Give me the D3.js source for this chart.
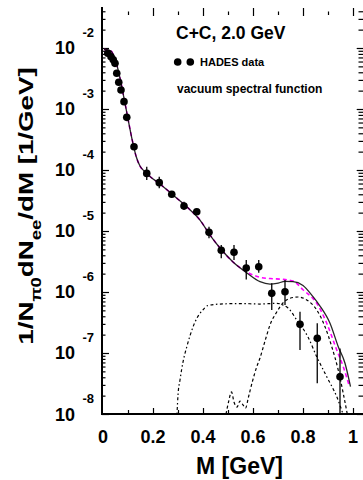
<!DOCTYPE html>
<html><head><meta charset="utf-8">
<script src="https://cdn.jsdelivr.net/npm/d3@7"></script>
<style>html,body{margin:0;padding:0;background:#fff;} svg{display:block;}</style>
</head><body><svg id="c" width="363" height="480"></svg>
<script>
// HADES data points
const dataMass  = [0.019,0.032,0.041,0.048,0.055,0.063,0.072,0.084,0.095,0.124,0.175,0.225,0.275,0.324,0.375,0.424,0.473,0.524,0.573,0.623,0.675,0.728,0.788,0.857,0.948];
const dataYield = [8.2e-3,7.2e-3,6.4e-3,5.6e-3,3.85e-3,2.74e-3,2.05e-3,1.32e-3,7.3e-4,2.41e-4,8.8e-5,6.2e-5,4.0e-5,2.57e-5,2.07e-5,9.5e-6,4.83e-6,4.48e-6,2.47e-6,2.60e-6,9.5e-7,1.01e-6,2.95e-7,1.74e-7,4.08e-8];
const dataErrHi = [8.2e-3,7.2e-3,6.4e-3,5.6e-3,3.85e-3,2.74e-3,2.05e-3,1.32e-3,7.3e-4,2.41e-4,1.13e-4,7.76e-5,4.48e-5,3.02e-5,2.32e-5,1.17e-5,5.89e-6,5.89e-6,3.35e-6,3.35e-6,1.39e-6,1.57e-6,4.75e-7,3.07e-7,1.19e-7];
const dataErrLo = [8.2e-3,7.2e-3,6.4e-3,5.6e-3,3.85e-3,2.74e-3,2.05e-3,1.32e-3,7.3e-4,2.41e-4,6.86e-5,5.01e-5,3.56e-5,2.21e-5,1.85e-5,7.59e-6,3.56e-6,3.35e-6,1.61e-6,2.07e-6,5.07e-7,6.12e-7,1.12e-7,3.18e-8,1.0e-8];

// total (solid black)
const totalMass  = [0.004,0.02,0.032,0.04,0.052,0.068,0.084,0.100,0.116,0.132,0.148,0.164,0.188,0.228,0.280,0.336,0.388,0.428,0.468,0.520,0.576,0.628,0.668,0.695,0.728,0.760,0.800,0.840,0.868,0.908,0.941,0.968,0.990];
const totalYield = [9.45e-3,9.27e-3,8.93e-3,7.98e-3,5.89e-3,3.22e-3,1.51e-3,6.86e-4,3.22e-4,1.70e-4,1.16e-4,9.64e-5,7.82e-5,5.89e-5,3.89e-5,2.47e-5,1.51e-5,8.59e-6,5.26e-6,3.10e-6,2.05e-6,1.48e-6,1.35e-6,1.38e-6,1.49e-6,1.48e-6,1.28e-6,8.38e-7,5.89e-7,3.07e-7,1.27e-7,6.78e-8,2.81e-8];

// vacuum spectral function (magenta dashed)
const vacMass  = [0.004,0.02,0.032,0.04,0.052,0.068,0.084,0.100,0.116,0.132,0.148,0.164,0.188,0.228,0.280,0.336,0.388,0.428,0.468,0.520,0.576,0.628,0.668,0.721,0.761,0.801,0.855,0.895,0.935,0.961,0.986];
const vacYield = [9.45e-3,9.27e-3,8.93e-3,7.98e-3,5.89e-3,3.22e-3,1.51e-3,6.86e-4,3.22e-4,1.70e-4,1.16e-4,9.64e-5,7.82e-5,5.89e-5,3.89e-5,2.47e-5,1.51e-5,8.59e-6,5.26e-6,3.10e-6,2.13e-6,1.74e-6,1.66e-6,1.61e-6,1.51e-6,1.08e-6,6.53e-7,3.07e-7,1.12e-7,5.96e-8,2.81e-8];

// dashed component
const dashMass  = [0.492,0.502,0.514,0.524,0.536,0.548,0.560,0.570,0.582,0.596,0.615,0.628,0.648,0.668,0.695,0.720,0.748,0.780,0.815,0.855,0.888,0.915,0.941,0.961,0.977];
const dashYield = [1.0e-8,1.57e-8,2.30e-8,1.57e-8,1.30e-8,1.63e-8,1.41e-8,1.25e-8,1.90e-8,3.22e-8,5.96e-8,8.28e-8,1.57e-7,2.88e-7,4.70e-7,6.61e-7,7.89e-7,8.28e-7,7.40e-7,5.07e-7,2.70e-7,1.27e-7,5.26e-8,2.18e-8,1.0e-8];

// dash-dotted component
const dotMass  = [0.296,0.300,0.308,0.320,0.336,0.360,0.376,0.396,0.420,0.468,0.548,0.628,0.695,0.720,0.740,0.775,0.820,0.855,0.895,0.935,0.960];
const dotYield = [1.0e-8,2.05e-8,3.61e-8,7.11e-8,1.30e-7,2.67e-7,3.75e-7,4.89e-7,6.01e-7,6.35e-7,6.47e-7,6.35e-7,6.53e-7,6.12e-7,5.47e-7,3.48e-7,1.83e-7,8.69e-8,4.08e-8,1.92e-8,1.0e-8];

const yDecades = [1e-2,1e-3,1e-4,1e-5,1e-6,1e-7,1e-8];
const yExpLabels = ["-2","-3","-4","-5","-6","-7","-8"];
const xMajor = [0,0.2,0.4,0.6,0.8,1.0];
const xLabels = ["0","0.2","0.4","0.6","0.8","1"];
const xMinor = [0.1,0.3,0.5,0.7,0.9];

const FONT = "'Liberation Sans', Arial, Helvetica, sans-serif";
const svg = d3.select("#c");
const x = d3.scaleLinear().domain([0,1.04]).range([103,363]);
const y = d3.scaleLog().domain([1e-8,0.047]).range([414,7]);

// minor log ticks
const yMinor = [];
for (let e=-8; e<=-2; e++) for (let k=2;k<=9;k++){ const v=k*Math.pow(10,e); if (v<=0.047) yMinor.push(v); }

// left axis
svg.append("g").attr("transform","translate(102,0)")
  .call(d3.axisRight(y).tickValues(yDecades).tickSize(7).tickFormat(""))
  .call(g=>g.select(".domain").remove());
svg.append("g").attr("transform","translate(102,0)")
  .call(d3.axisRight(y).tickValues(yMinor).tickSize(3.5).tickFormat(""))
  .call(g=>g.select(".domain").remove());
// right axis ticks
svg.append("g").attr("transform","translate(363,0)")
  .call(d3.axisLeft(y).tickValues(yDecades).tickSize(6.3).tickFormat(""))
  .call(g=>g.select(".domain").remove());
svg.append("g").attr("transform","translate(363,0)")
  .call(d3.axisLeft(y).tickValues(yMinor).tickSize(4.5).tickFormat(""))
  .call(g=>g.select(".domain").remove());
// bottom axis
svg.append("g").attr("transform","translate(0,414)")
  .call(d3.axisTop(x).tickValues(xMajor.slice(1)).tickSize(6).tickFormat(""))
  .call(g=>g.select(".domain").remove());
svg.append("g").attr("transform","translate(0,414)")
  .call(d3.axisTop(x).tickValues(xMinor).tickSize(4).tickFormat(""))
  .call(g=>g.select(".domain").remove());
// top ticks
svg.append("g").attr("transform","translate(0,8)")
  .call(d3.axisBottom(x).tickValues(xMajor.slice(1)).tickSize(8).tickFormat(""))
  .call(g=>g.select(".domain").remove());
svg.append("g").attr("transform","translate(0,11.5)")
  .call(d3.axisBottom(x).tickValues(xMinor).tickSize(3.5).tickFormat(""))
  .call(g=>g.select(".domain").remove());
svg.selectAll(".tick line").attr("stroke","#000").attr("stroke-width",1.2);

// axis lines
svg.append("line").attr("x1",102).attr("x2",102).attr("y1",7).attr("y2",415).attr("stroke","#000").attr("stroke-width",2);
svg.append("line").attr("x1",101).attr("x2",363).attr("y1",414).attr("y2",414).attr("stroke","#000").attr("stroke-width",2);

// y tick labels
yDecades.forEach((v,i)=>{
  svg.append("text").attr("x",75).attr("y",y(v)+6.5).attr("text-anchor","end")
    .attr("font-family",FONT).attr("font-weight","bold").attr("font-size",18).text("10");
  svg.append("text").attr("x",82.5).attr("y",y(v)-11).attr("text-anchor","start")
    .attr("font-family",FONT).attr("font-weight","bold").attr("font-size",13).text(yExpLabels[i]);
});
// x tick labels
xMajor.forEach((v,i)=>{
  svg.append("text").attr("x",x(v)).attr("y",443).attr("text-anchor","middle")
    .attr("font-family",FONT).attr("font-weight","bold").attr("font-size",18).text(xLabels[i]);
});
// x title
svg.append("text").attr("x",239.5).attr("y",474).attr("text-anchor","middle")
  .attr("font-family",FONT).attr("font-weight","bold").attr("font-size",23).text("M [GeV]");
// y title
const yt = svg.append("text").attr("transform","translate(33,206) rotate(-90) scale(1.32,1)")
  .attr("text-anchor","middle").attr("font-family",FONT).attr("font-weight","bold").attr("font-size",21);
yt.append("tspan").text("1/N");
yt.append("tspan").attr("font-size",14).attr("dy",8).text("π0");
yt.append("tspan").attr("dy",-8).text("dN");
yt.append("tspan").attr("font-size",14).attr("dy",8).text("ee");
yt.append("tspan").attr("dy",-8).text("/dM [1/GeV]");

// curves
const line = (ms,ys)=> d3.line().curve(d3.curveMonotoneX)(ms.map((m,i)=>[x(m),y(ys[i])]));
svg.append("path").attr("d",line(dotMass,dotYield)).attr("fill","none").attr("stroke","#000")
  .attr("stroke-width",1.2).attr("stroke-dasharray","1.5,2.5,3,2.5");
svg.append("path").attr("d",line(dashMass,dashYield)).attr("fill","none").attr("stroke","#000")
  .attr("stroke-width",1.2).attr("stroke-dasharray","3,2.5");
svg.append("path").attr("d",line(vacMass,vacYield)).attr("fill","none").attr("stroke","#ff00ff")
  .attr("stroke-width",1.6).attr("stroke-dasharray","4,3");
svg.append("path").attr("d",line(totalMass,totalYield)).attr("fill","none").attr("stroke","#000")
  .attr("stroke-width",1.3).attr("stroke-opacity",0.85);

// error bars and points
svg.append("g").selectAll("line").data(dataMass).join("line")
  .attr("x1",d=>x(d)).attr("x2",d=>x(d))
  .attr("y1",(d,i)=>y(dataErrHi[i])).attr("y2",(d,i)=>y(dataErrLo[i]))
  .attr("stroke","#000").attr("stroke-width",1.3);
svg.append("g").selectAll("circle").data(dataMass).join("circle")
  .attr("cx",d=>x(d)).attr("cy",(d,i)=>y(dataYield[i])).attr("r",3.8).attr("fill","#000");

// legend
svg.append("text").attr("x",176).attr("y",38.5).attr("font-family",FONT).attr("font-weight","bold")
  .attr("font-size",17.5).text("C+C, 2.0 GeV");
[177.7,190.3].forEach(cx=>svg.append("circle").attr("cx",cx).attr("cy",62).attr("r",3.8).attr("fill","#000"));
svg.append("text").attr("x",200).attr("y",65.5).attr("font-family",FONT).attr("font-weight","bold")
  .attr("font-size",11).text("HADES data");
svg.append("text").attr("x",177).attr("y",92.5).attr("font-family",FONT).attr("font-weight","bold")
  .attr("font-size",12).text("vacuum spectral function");
</script></body></html>
